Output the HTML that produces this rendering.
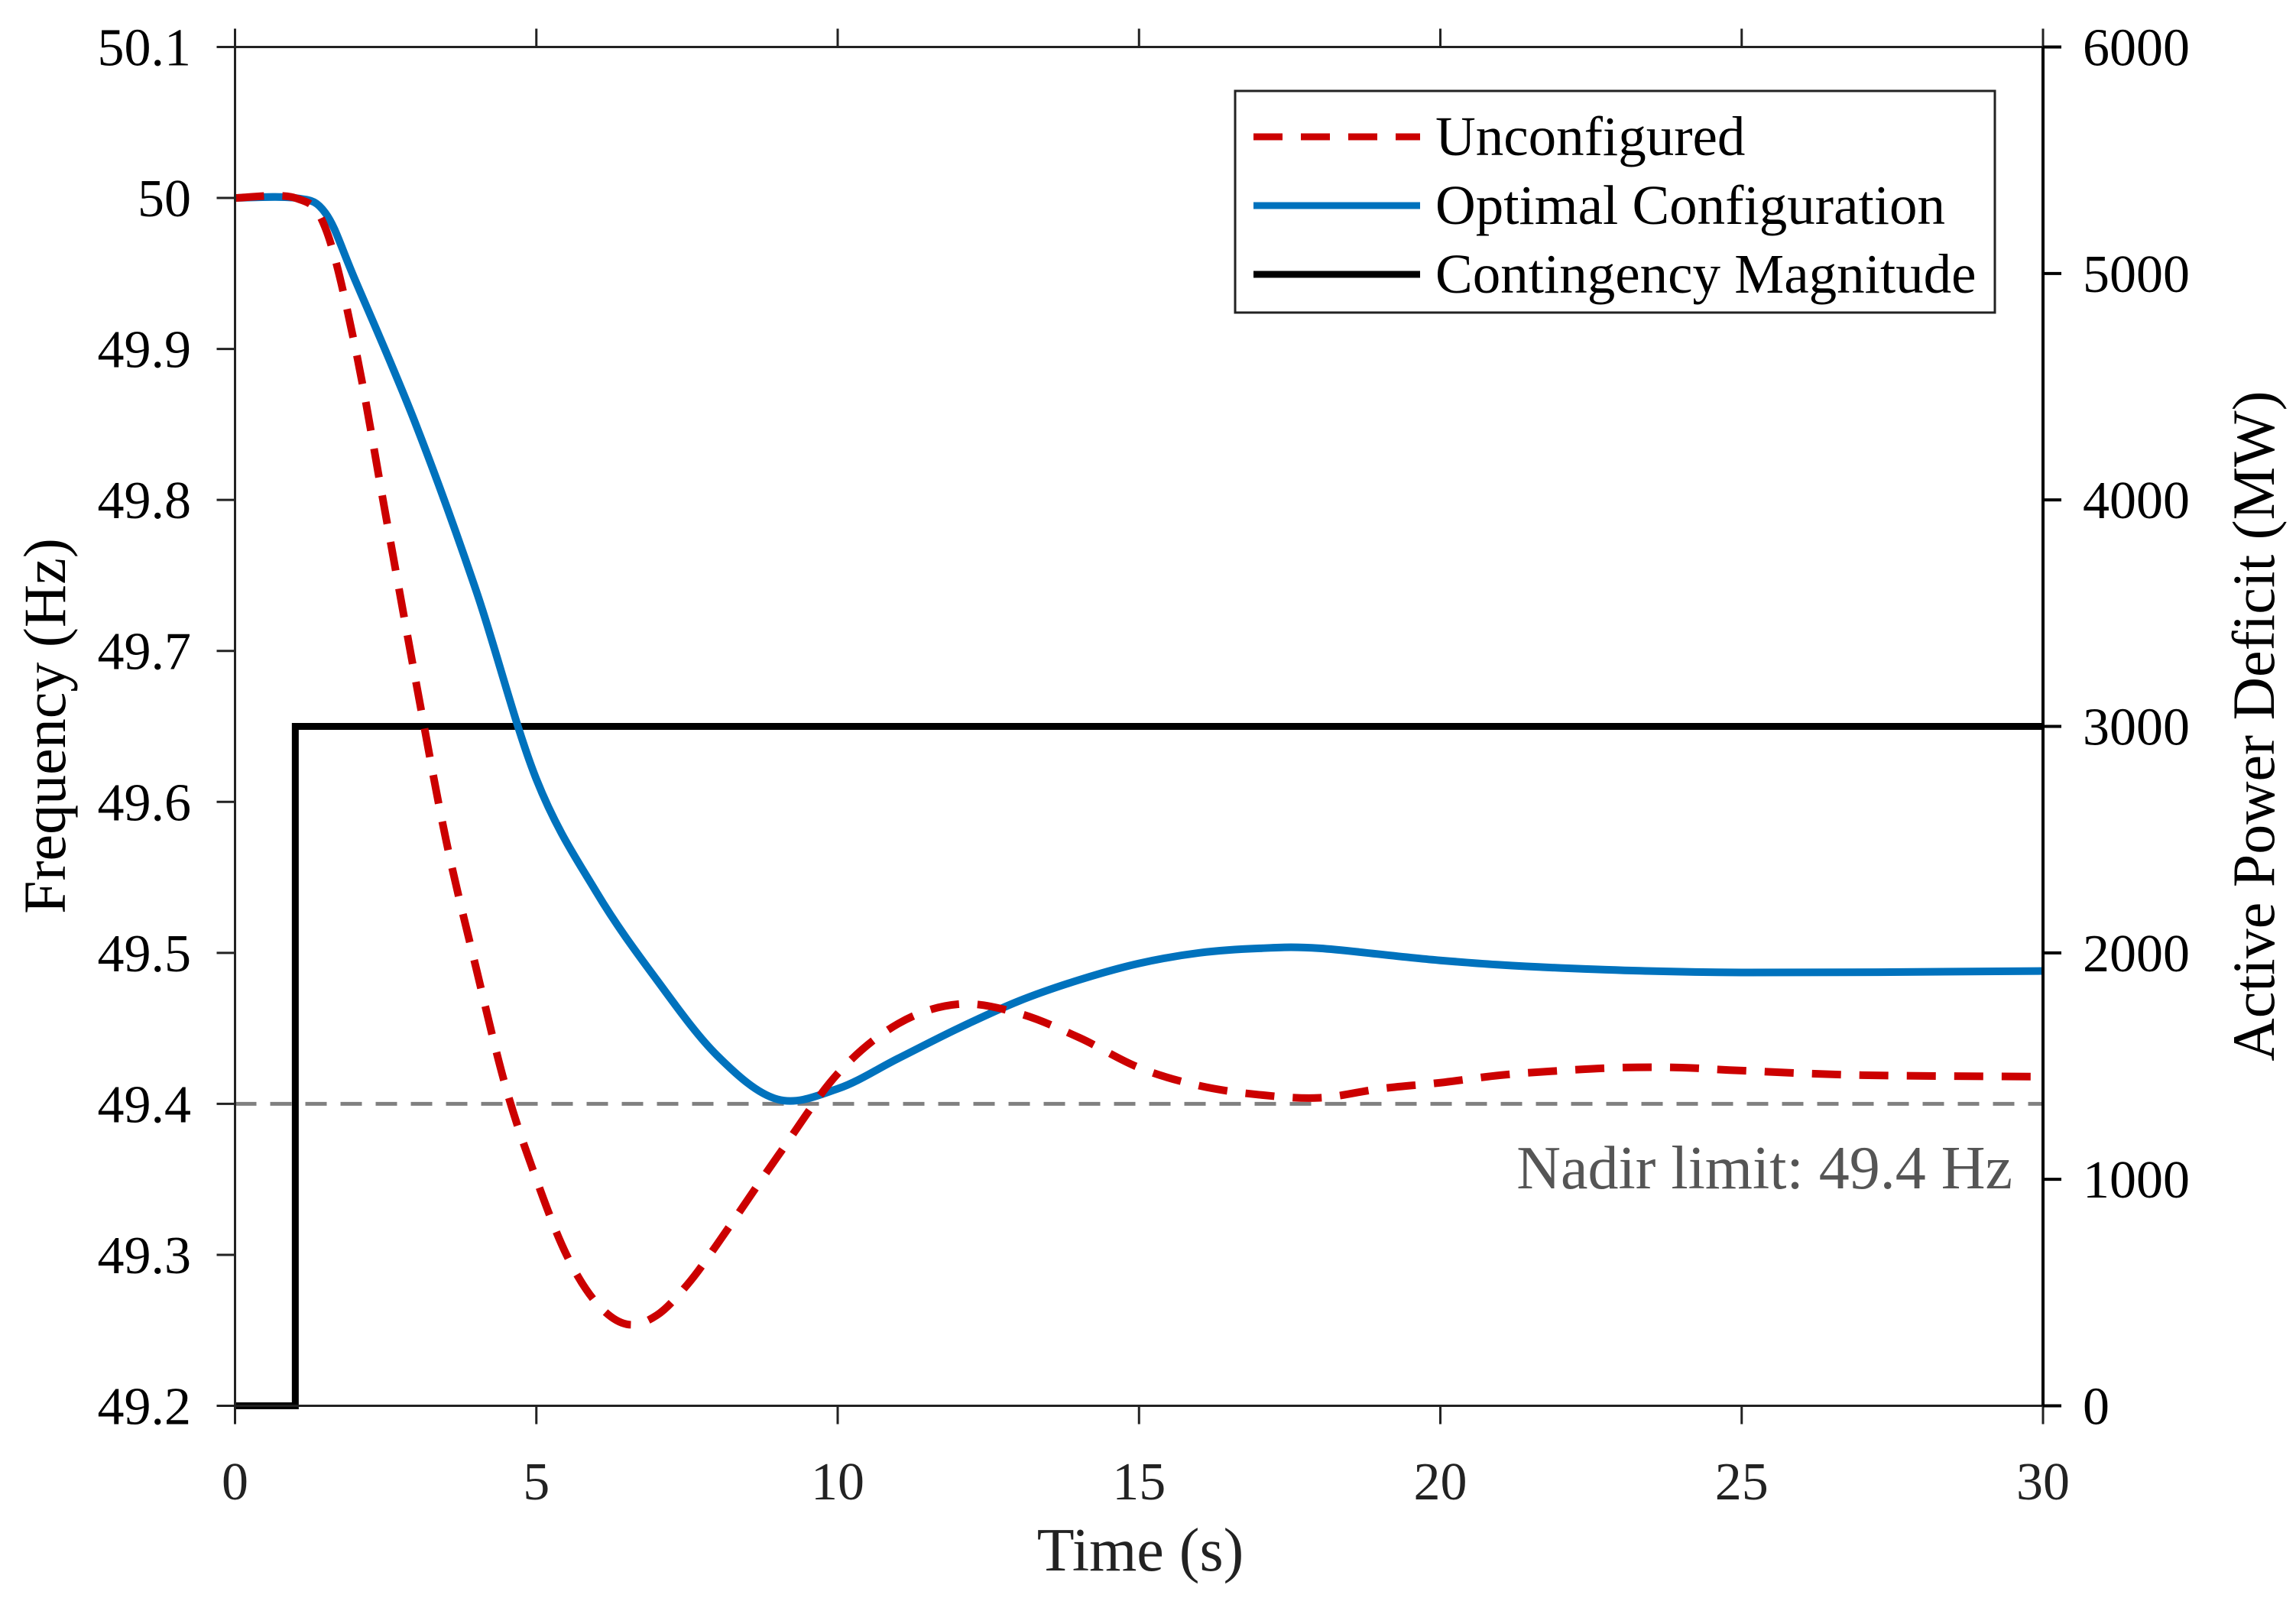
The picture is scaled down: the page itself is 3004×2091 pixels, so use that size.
<!DOCTYPE html>
<html><head><meta charset="utf-8"><style>
html,body{margin:0;padding:0;background:#fff;}
svg{display:block;font-family:"Liberation Serif",serif;}
</style></head><body>
<svg id="chart" width="3004" height="2091" viewBox="0 0 3004 2091" xmlns="http://www.w3.org/2000/svg">
<rect width="3004" height="2091" fill="#fff"/>
<g id="plot"></g>
</svg>
<script>
const timeOpt = [0,1,1.5,2,3,4,5,6,7,8,9,10,11,12,13,14,15,16,17,18,20,22,25,30];
const freqOpt = [50,50,49.99,49.945,49.85,49.74,49.615,49.54,49.482,49.432,49.403,49.41,49.43,49.45,49.468,49.482,49.493,49.5,49.503,49.503,49.495,49.49,49.487,49.488];
const timeUnc = [0,1,1.5,2,2.5,3,3.5,4,4.5,5,5.5,6,6.5,7,7.5,8,9,10,11,12,13,14,15,16,17,18,19,20,21,22,23,24,25,27,30];
const freqUnc = [50,50,49.98,49.9,49.79,49.68,49.575,49.49,49.41,49.35,49.3,49.268,49.254,49.26,49.28,49.307,49.365,49.42,49.453,49.466,49.46,49.444,49.424,49.412,49.406,49.404,49.41,49.414,49.419,49.422,49.424,49.424,49.422,49.419,49.418];
const timeCont = [0,1,1,30];
const powerCont = [0,0,3000,3000];
const xTicks = [0,5,10,15,20,25,30];
const yTicks = [49.2,49.3,49.4,49.5,49.6,49.7,49.8,49.9,50,50.1];
const yTickLabels = ["49.2","49.3","49.4","49.5","49.6","49.7","49.8","49.9","50","50.1"];
const y2Ticks = [0,1000,2000,3000,4000,5000,6000];
const nadirLimit = 49.4;

const L=307.5,R=2673,T=61.5,B=1839.5;
const xS=t=>L+(t-0)/(30-0)*(R-L);
const yS=f=>B-(f-49.2)/(50.1-49.2)*(B-T);
const y2S=p=>B-p/6000*(B-T);
const NS="http://www.w3.org/2000/svg";
const g=document.getElementById('plot');
function el(tag,attrs,parent){const e=document.createElementNS(NS,tag);for(const k in attrs)e.setAttribute(k,attrs[k]);(parent||g).appendChild(e);return e;}
function smooth(xs,ys){const p=xs.map((x,i)=>[x,ys[i]]);let d=`M${p[0][0]},${p[0][1]}`;for(let i=0;i<p.length-1;i++){const p0=p[Math.max(0,i-1)],p1=p[i],p2=p[i+1],p3=p[Math.min(p.length-1,i+2)];const c1=[p1[0]+(p2[0]-p0[0])/6,p1[1]+(p2[1]-p0[1])/6];const c2=[p2[0]-(p3[0]-p1[0])/6,p2[1]-(p3[1]-p1[1])/6];d+=` C${c1[0]},${c1[1]} ${c2[0]},${c2[1]} ${p2[0]},${p2[1]}`;}return d;}

let e=el('line',{x1:L,x2:R,y1:yS(nadirLimit),y2:yS(nadirLimit),stroke:'#808080','stroke-width':5,'stroke-dasharray':'28 18'});


e=el('text',{x:2633,y:1555,'text-anchor':'end','font-size':80,fill:'#555'});e.textContent='Nadir limit: 49.4 Hz';



e=el('polyline',{points:timeCont.map((t,i)=>xS(t)+','+y2S(powerCont[i])).join(' '),fill:'none',stroke:'#000','stroke-width':9});


e=el('path',{d:smooth(timeOpt.map(xS),freqOpt.map(yS)),fill:'none',stroke:'#0072BD','stroke-width':10});


e=el('path',{d:smooth(timeUnc.map(xS),freqUnc.map(yS)),fill:'none',stroke:'#CC0000','stroke-width':10,'stroke-dasharray':'38 24'});



e=el('rect',{x:L,y:T,width:R-L,height:B-T,fill:'none',stroke:'#222','stroke-width':3});


xTicks.forEach(t=>{
  el('line',{x1:xS(t),x2:xS(t),y1:B,y2:B+24,stroke:'#222','stroke-width':3});
  el('line',{x1:xS(t),x2:xS(t),y1:T,y2:T-24,stroke:'#222','stroke-width':3});
  const tx=el('text',{x:xS(t),y:1962,'text-anchor':'middle','font-size':70,fill:'#222'});tx.textContent=t;
  
  
});
yTicks.forEach((f,i)=>{
  el('line',{x1:L-24,x2:L,y1:yS(f),y2:yS(f),stroke:'#222','stroke-width':3});
  const tx=el('text',{x:250,y:yS(f)+24,'text-anchor':'end','font-size':70,fill:'#000'});tx.textContent=yTickLabels[i];
  
  
});
y2Ticks.forEach(p=>{
  el('line',{x1:R,x2:R+24,y1:y2S(p),y2:y2S(p),stroke:'#000','stroke-width':4});
  const tx=el('text',{x:2725,y:y2S(p)+24,'text-anchor':'start','font-size':70,fill:'#000'});tx.textContent=p;
  
  
});
el('line',{x1:R,x2:R,y1:T,y2:B,stroke:'#000','stroke-width':4});

e=el('text',{x:1492,y:2055,'text-anchor':'middle','font-size':80,fill:'#222'});e.textContent='Time (s)';


e=el('text',{x:0,y:0,'text-anchor':'middle','font-size':78,fill:'#000',transform:'translate(85,950) rotate(-90)'});e.textContent='Frequency (Hz)';


e=el('text',{x:0,y:0,'text-anchor':'middle','font-size':78,fill:'#000',transform:'translate(2975,950) rotate(-90)'});e.textContent='Active Power Deficit (MW)';



const lg=el('g',{});


el('rect',{x:1616,y:119,width:994,height:290,fill:'#fff',stroke:'#222','stroke-width':3},lg);
const legNames=['Unconfigured','Optimal Configuration','Contingency Magnitude'];
const legCols=['#CC0000','#0072BD','#000'];
const legDash=['38 24','none','none'];
legNames.forEach((n,i)=>{
  const y=179+i*90;
  el('line',{x1:1640,x2:1858,y1:y,y2:y,stroke:legCols[i],'stroke-width':9,'stroke-dasharray':legDash[i]},lg);
  const tx=el('text',{x:1878,y:y+24,'font-size':73,fill:'#000'},lg);tx.textContent=n;
  
  
});
</script>
</body></html>
